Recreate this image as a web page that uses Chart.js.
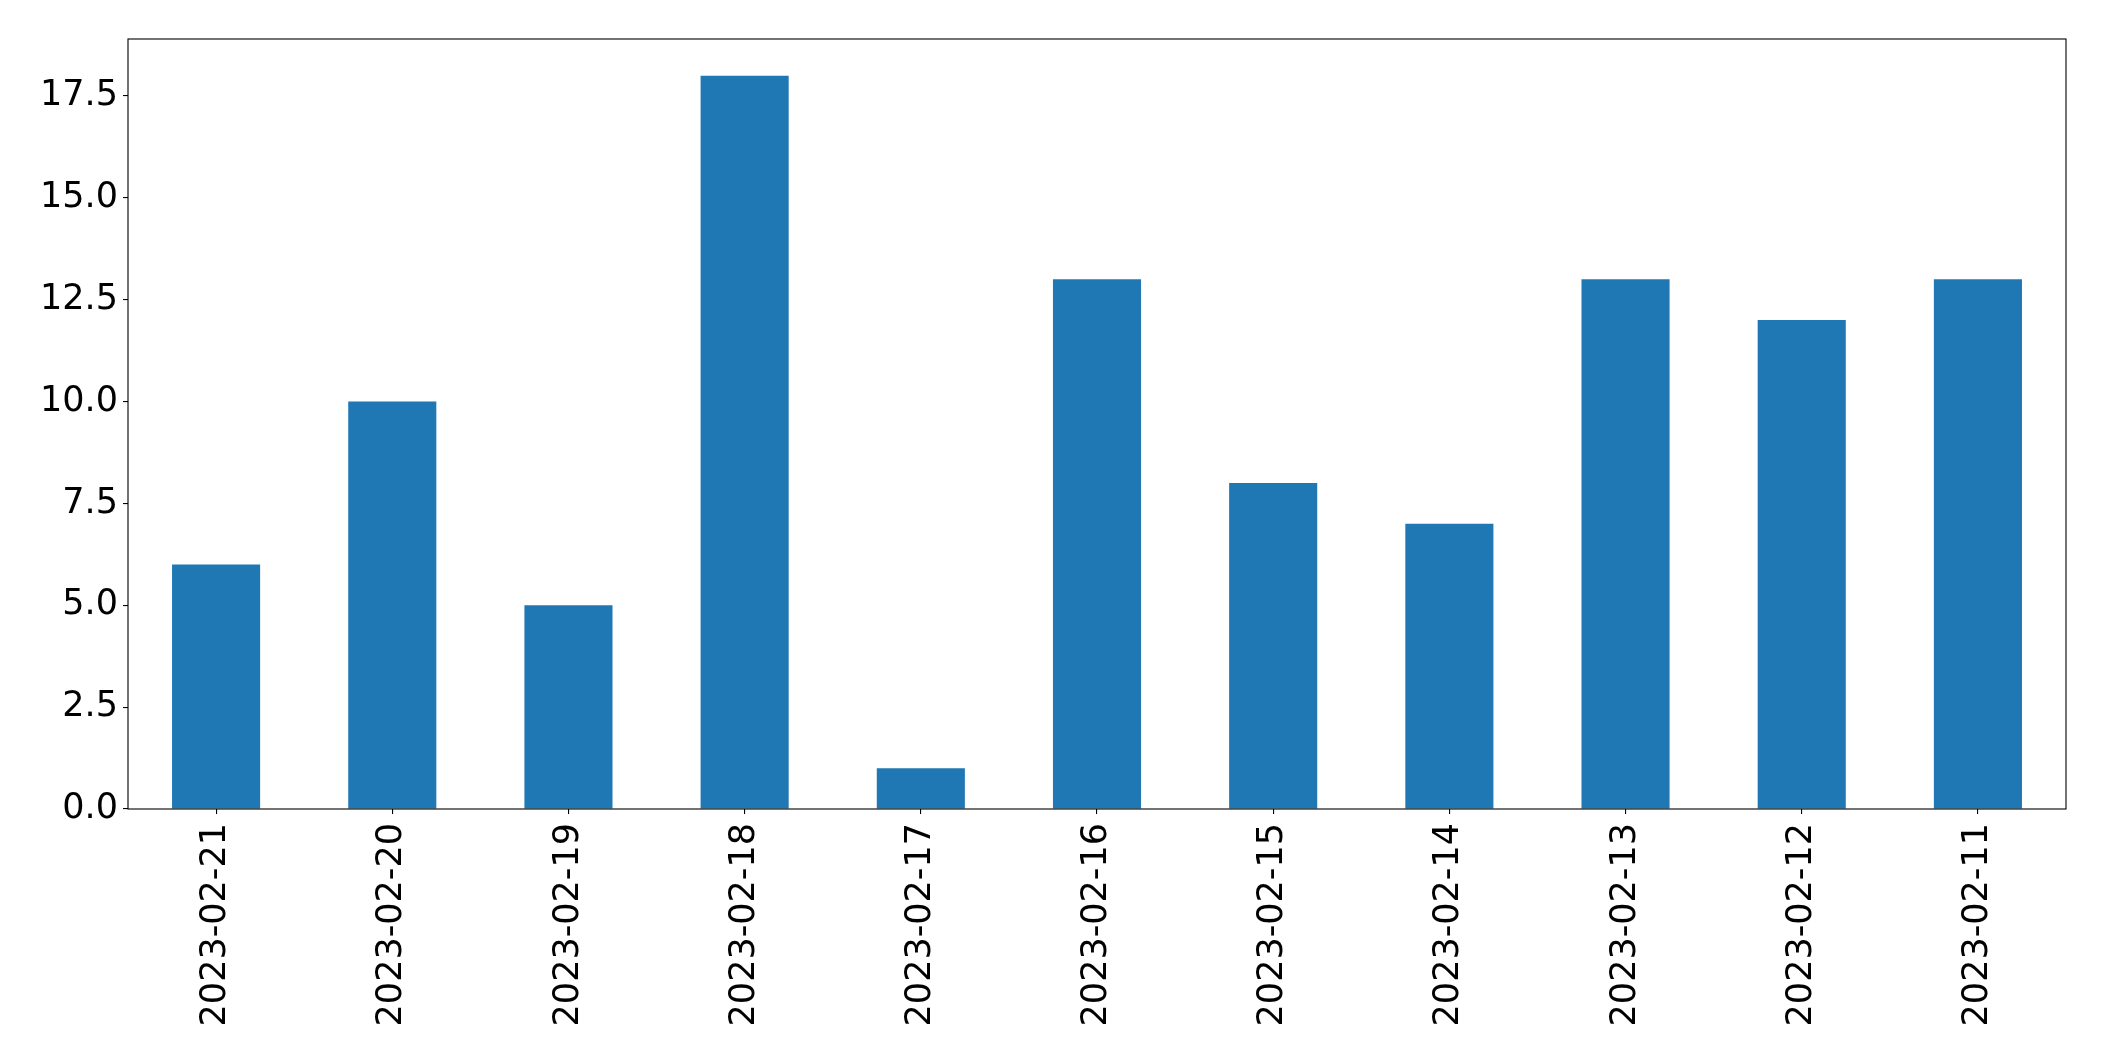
<!DOCTYPE html>
<html>
<head>
<meta charset="utf-8">
<script src="https://cdn.jsdelivr.net/npm/chart.js@4"></script>
<style>
  html, body { margin: 0; padding: 0; background: #fff; }
  #wrap { width: 2104px; height: 1061px; }
</style>
</head>
<body>
<div id="wrap"><canvas id="chart" width="2104" height="1061"></canvas></div>
<script>
const dates = ['2023-02-21', '2023-02-20', '2023-02-19', '2023-02-18', '2023-02-17', '2023-02-16',
               '2023-02-15', '2023-02-14', '2023-02-13', '2023-02-12', '2023-02-11'];
const counts = [6, 10, 5, 18, 1, 13, 8, 7, 13, 12, 13];
const yTicks = [0, 2.5, 5, 7.5, 10, 12.5, 15, 17.5];

const tickFont = { family: "'DejaVu Sans', sans-serif", size: 35 };

// full black frame round the plot, like matplotlib's spines
const frame = {
    id: 'frame',
    afterDraw(chart) {
        const { ctx, chartArea: a } = chart;
        ctx.save();
        ctx.strokeStyle = '#000';
        ctx.lineWidth = 1.1;
        ctx.strokeRect(a.left, a.top, a.right - a.left, a.bottom - a.top);
        ctx.restore();
    },
};

new Chart(document.getElementById('chart'), {
    type: 'bar',
    data: {
        labels: dates,
        datasets: [{
            data: counts,
            backgroundColor: '#1f77b4',
            borderWidth: 0,
            barPercentage: 0.5,
            categoryPercentage: 1,
        }],
    },
    options: {
        responsive: false,
        animation: false,
        layout: { padding: { top: 39, right: 38, left: 0, bottom: 0 } },
        plugins: { legend: { display: false }, tooltip: { enabled: false } },
        scales: {
            x: {
                offset: true,
                grid: { display: true, drawOnChartArea: false, offset: false, tickLength: 5, color: '#000', lineWidth: 1.1 },
                border: { display: false },
                ticks: { font: tickFont, color: '#000', minRotation: 90, maxRotation: 90, padding: 9, autoSkip: false },
                afterFit: s => { s.height = 252; },
            },
            y: {
                min: 0,
                max: 18.9,
                grid: { display: true, drawOnChartArea: false, tickLength: 5, color: '#000', lineWidth: 1.1 },
                border: { display: false },
                ticks: {
                    font: tickFont, color: '#000', padding: 5,
                    includeBounds: false,
                    callback: v => v.toFixed(1),
                },
                afterBuildTicks: s => { s.ticks = yTicks.map(v => ({ value: v })); },
                afterFit: s => { s.width = 128; },
            },
        },
    },
    plugins: [frame],
});
</script>
</body>
</html>
